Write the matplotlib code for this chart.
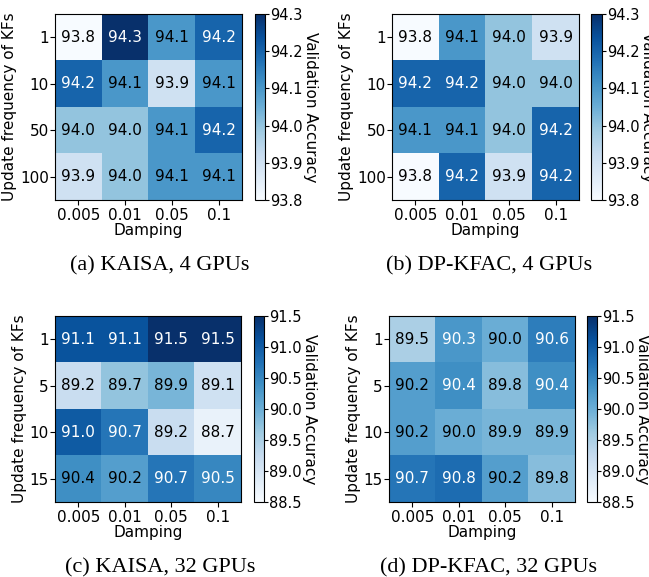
import numpy as np
import matplotlib
matplotlib.use("Agg")
import matplotlib.pyplot as plt

# hyperparameter grids
damping = ["0.005", "0.01", "0.05", "0.1"]
freq_4gpu = ["1", "10", "50", "100"]
freq_32gpu = ["1", "5", "10", "15"]

# validation accuracy (rows = update frequency, cols = damping)
kaisa_4 = [[93.8, 94.3, 94.1, 94.2],
           [94.2, 94.1, 93.9, 94.1],
           [94.0, 94.0, 94.1, 94.2],
           [93.9, 94.0, 94.1, 94.1]]
dpkfac_4 = [[93.8, 94.1, 94.0, 93.9],
            [94.2, 94.2, 94.0, 94.0],
            [94.1, 94.1, 94.0, 94.2],
            [93.8, 94.2, 93.9, 94.2]]
kaisa_32 = [[91.1, 91.1, 91.5, 91.5],
            [89.2, 89.7, 89.9, 89.1],
            [91.0, 90.7, 89.2, 88.7],
            [90.4, 90.2, 90.7, 90.5]]
dpkfac_32 = [[89.5, 90.3, 90.0, 90.6],
             [90.2, 90.4, 89.8, 90.4],
             [90.2, 90.0, 89.9, 89.9],
             [90.7, 90.8, 90.2, 89.8]]

captions = ["(a) KAISA, 4 GPUs", "(b) DP-KFAC, 4 GPUs",
            "(c) KAISA, 32 GPUs", "(d) DP-KFAC, 32 GPUs"]

W, H = 649, 577
fig = plt.figure(figsize=(W / 100, H / 100), dpi=100)


def px(x0, y0, x1, y1):
    # pixel box -> figure fraction rect
    return [x0 / W, 1 - y1 / H, (x1 - x0) / W, (y1 - y0) / H]


def panel(data, rows, vmin, vmax, cticks, thresh, hm_box, cb_box, caption, cap_xy):
    data = np.array(data)
    ax = fig.add_axes(px(*hm_box))
    cax = fig.add_axes(px(*cb_box))
    im = ax.imshow(data, cmap="Blues", vmin=vmin, vmax=vmax, aspect="auto")
    for i in range(data.shape[0]):
        for j in range(data.shape[1]):
            c = "white" if data[i, j] > thresh else "black"
            ax.text(j, i, f"{data[i, j]:.1f}", ha="center", va="center",
                    color=c, fontsize=11)
    ax.set_xticks(range(len(damping)))
    ax.set_xticklabels(damping, fontsize=11)
    ax.set_yticks(range(len(rows)))
    ax.set_yticklabels(rows, fontsize=11)
    ax.set_xlabel("Damping", fontsize=11, labelpad=0)
    ax.set_ylabel("Update frequency of KFs", fontsize=11, labelpad=2)
    ax.tick_params(axis="x", length=3.5, pad=2)
    ax.tick_params(axis="y", length=3.5, pad=1)
    cb = fig.colorbar(im, cax=cax)
    cb.set_ticks(cticks)
    cb.set_ticklabels([f"{t:.1f}" for t in cticks])
    cb.ax.tick_params(labelsize=10.5, length=3, pad=0.5)
    cb.set_label("Validation Accuracy", rotation=270, fontsize=11, labelpad=11)
    cb.outline.set_linewidth(0.8)
    fig.text(cap_xy[0] / W, 1 - cap_xy[1] / H, caption, ha="center", va="baseline",
             fontsize=16, family="Liberation Serif")


t4 = np.arange(93.8, 94.31, 0.1)
t32 = np.arange(88.5, 91.51, 0.5)

panel(kaisa_4, freq_4gpu, 93.8, 94.3, t4, 94.15,
      (55, 14, 242, 200), (255, 14, 265, 200), captions[0], (160, 270))
panel(dpkfac_4, freq_4gpu, 93.8, 94.3, t4, 94.15,
      (392, 14, 579, 200), (591, 14, 602, 200), captions[1], (489, 270))
panel(kaisa_32, freq_32gpu, 88.5, 91.5, t32, 90.45,
      (55, 316, 241, 502), (254, 316, 264, 502), captions[2], (160, 572))
panel(dpkfac_32, freq_32gpu, 88.5, 91.5, t32, 90.25,
      (389, 316, 575, 502), (587, 316, 597, 502), captions[3], (489, 572))

plt.savefig("out.png", dpi=100)
